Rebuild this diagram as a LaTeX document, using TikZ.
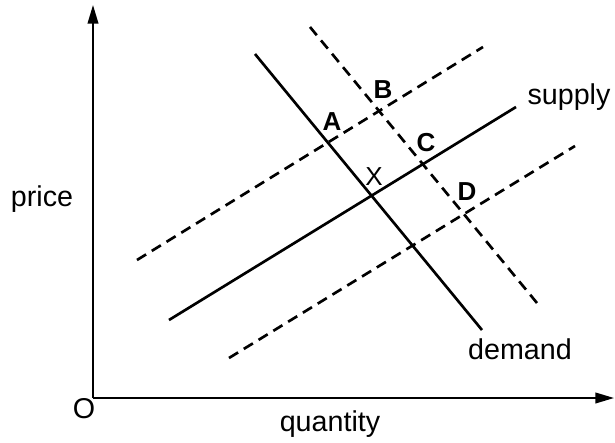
\documentclass[tikz,border=0pt]{standalone}
\usepackage{fontspec}
\setmainfont{Liberation Sans}
\usetikzlibrary{arrows.meta}
\begin{document}
\begin{tikzpicture}[x=0.75pt,y=-0.75pt,
  axis/.style={line width=1.4pt,-{Triangle[length=14pt,width=8pt]}},
  curve/.style={line width=2pt},
  shifted/.style={line width=2pt,dash pattern=on 8pt off 5pt},
  word/.style={anchor=base,inner sep=0pt,font=\fontsize{21.5}{24}\selectfont},
  pt/.style={anchor=base,inner sep=0pt,font=\fontsize{19.5}{22}\selectfont\bfseries},
  ptx/.style={anchor=base,inner sep=0pt,font=\fontsize{19.5}{22}\selectfont}]
\useasboundingbox (0,0) rectangle (615,443);
% axes
\coordinate (o) at (93,398);
\coordinate (ytop) at (93,5);
\coordinate (xend) at (614,398);
\draw[axis] (o) -- (ytop);
\draw[axis] (o) -- (xend);
% supply curves
\coordinate (s1) at (169,320); \coordinate (s2) at (516,107);
\coordinate (su1) at (137,260); \coordinate (su2) at (483,47);
\coordinate (sl1) at (229,358); \coordinate (sl2) at (575,146);
\draw[curve] (s1) -- (s2);
\draw[shifted] (su1) -- (su2);
\draw[shifted] (sl1) -- (sl2);
% demand curves
\coordinate (d1) at (255,54); \coordinate (d2) at (482,330);
\coordinate (dd1) at (310,27); \coordinate (dd2) at (537,303);
\draw[curve] (d1) -- (d2);
\draw[shifted] (dd1) -- (dd2);
% labels
\node[word] (lo) at (84,418) {O};
\node[word] (lprice) at (42,206) {price};
\node[word] (lq) at (330,431) {quantity};
\node[word] (lsup) at (569,104) {supply};
\node[word] (ldem) at (520,359) {demand};
\node[pt] (la) at (332,130) {A};
\node[pt] (lb) at (383,98) {B};
\node[pt] (lc) at (426,151) {C};
\node[pt] (ld) at (467,200) {D};
\node[ptx] (lx) at (374,185) {X};
\end{tikzpicture}
\end{document}
